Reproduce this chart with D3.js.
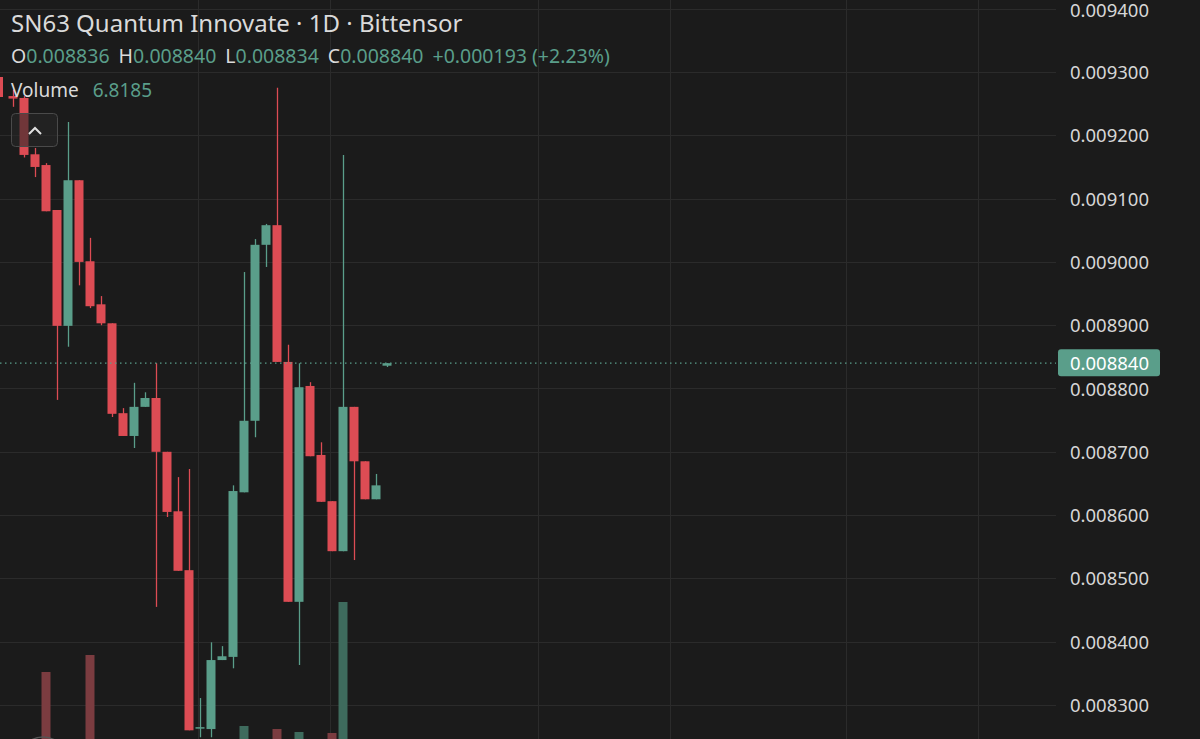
<!DOCTYPE html>
<html>
<head>
<meta charset="utf-8">
<script src="https://cdn.jsdelivr.net/npm/d3@7"></script>
<style>
  body { margin: 0; background: #1b1b1b; overflow: hidden; }
  svg { display: block; }
  text { font-family: "Noto Sans", "Open Sans", sans-serif; }
</style>
</head>
<body>
<svg id="chart" width="1200" height="739"></svg>
<script>
// daily candles
var opens  = [0.009262, 0.009259, 0.009170, 0.009153, 0.009082, 0.008899, 0.009129, 0.009001, 0.008933, 0.008903,
              0.008761, 0.008725, 0.008771, 0.008785, 0.008700, 0.008606, 0.008513, 0.008263, 0.008262, 0.008371,
              0.008376, 0.008636, 0.008749, 0.009027, 0.009058, 0.008842, 0.008463, 0.008804, 0.008695, 0.008622,
              0.008543, 0.008771, 0.008685, 0.008625, 0.008836];
var highs  = [0.009272, 0.009262, 0.009180, 0.009156, 0.009082, 0.009221, 0.009129, 0.009038, 0.008946, 0.008903,
              0.008769, 0.008809, 0.008794, 0.008840, 0.008700, 0.008660, 0.008673, 0.008311, 0.008399, 0.008393,
              0.008647, 0.008984, 0.009036, 0.009060, 0.009275, 0.008869, 0.008840, 0.008810, 0.008715, 0.008622,
              0.009169, 0.008771, 0.008685, 0.008665, 0.008840];
var lows   = [0.009245, 0.009165, 0.009134, 0.009080, 0.008782, 0.008866, 0.008963, 0.008927, 0.008900, 0.008755,
              0.008725, 0.008706, 0.008771, 0.008455, 0.008597, 0.008512, 0.008260, 0.008249, 0.008249, 0.008371,
              0.008358, 0.008636, 0.008723, 0.008992, 0.008842, 0.008463, 0.008363, 0.008693, 0.008621, 0.008543,
              0.008543, 0.008529, 0.008625, 0.008625, 0.008834];
var closes = [0.009258, 0.009169, 0.009150, 0.009080, 0.008899, 0.009129, 0.009000, 0.008930, 0.008903, 0.008760,
              0.008725, 0.008771, 0.008785, 0.008700, 0.008605, 0.008512, 0.008260, 0.008265, 0.008371, 0.008377,
              0.008638, 0.008749, 0.009027, 0.009058, 0.008842, 0.008463, 0.008802, 0.008693, 0.008621, 0.008543,
              0.008771, 0.008685, 0.008625, 0.008647, 0.008840];
var volumes = [12, 14, 15, 88, 16, 10, 12, 105, 10, 9,
               8, 10, 8, 12, 9, 10, 14, 8, 11, 9,
               16, 34, 18, 14, 31, 20, 28, 12, 15, 27,
               158, 10, 8, 6, 6.8185];
var priceTicks = [0.0083, 0.0084, 0.0085, 0.0086, 0.0087, 0.0088, 0.0089, 0.009, 0.0091, 0.0092, 0.0093, 0.0094];
var timeGrid = [16.8, 28.8, 47.7, 59.7, 75.7, 87.7];  // vertical grid, in bar units
var lastPrice = 0.008840;

var svg = d3.select('#chart');
var W = 1056, H = 739;
var up = '#5a9e8a', down = '#dd4c54';

var x = d3.scaleLinear().domain([0, 34]).range([13, 387]);
var y = d3.scaleLinear().domain([0.0083, 0.0093]).range([705, 72]);
var v = d3.scaleLinear().domain([0, 160]).range([760, 600]);

// grid
svg.append('g').selectAll('line').data(priceTicks).enter().append('line')
  .attr('x1', 0).attr('x2', W)
  .attr('y1', function(d) { return Math.round(y(d)) + 0.5; })
  .attr('y2', function(d) { return Math.round(y(d)) + 0.5; })
  .attr('stroke', '#2b2b2b');
svg.append('g').selectAll('line').data(timeGrid).enter().append('line')
  .attr('x1', function(d) { return Math.round(x(d)) + 0.5; })
  .attr('x2', function(d) { return Math.round(x(d)) + 0.5; })
  .attr('y1', 0).attr('y2', H)
  .attr('stroke', '#2b2b2b');

var idx = d3.range(opens.length);

// volume
svg.append('g').selectAll('rect').data(idx).enter().append('rect')
  .attr('x', function(i) { return x(i) - 4.5; })
  .attr('width', 9)
  .attr('y', function(i) { return v(volumes[i]); })
  .attr('height', function(i) { return 760 - v(volumes[i]); })
  .attr('fill', function(i) { return closes[i] >= opens[i] ? '#3e6b5d' : '#7b3c40'; });

// candles
var c = svg.append('g').selectAll('g').data(idx).enter().append('g');
c.append('line')
  .attr('x1', function(i) { return Math.round(x(i)) + 0.5; })
  .attr('x2', function(i) { return Math.round(x(i)) + 0.5; })
  .attr('y1', function(i) { return y(highs[i]); })
  .attr('y2', function(i) { return y(lows[i]); })
  .attr('stroke', function(i) { return closes[i] >= opens[i] ? up : down; })
  .attr('stroke-width', 1.3);
c.append('rect')
  .attr('x', function(i) { return x(i) - 4.5; })
  .attr('width', 9)
  .attr('y', function(i) { return y(Math.max(opens[i], closes[i])); })
  .attr('height', function(i) { return Math.max(1.5, Math.abs(y(opens[i]) - y(closes[i]))); })
  .attr('fill', function(i) { return closes[i] >= opens[i] ? up : down; });

// last price line
svg.append('line')
  .attr('x1', 0).attr('x2', W)
  .attr('y1', y(lastPrice)).attr('y2', y(lastPrice))
  .attr('stroke', up).attr('stroke-dasharray', '1.5,3.5').attr('stroke-width', 1.2);

// price axis
svg.append('g').selectAll('text').data(priceTicks).enter().append('text')
  .attr('x', 1070).attr('y', function(d) { return Math.max(17, y(d) + 7); })
  .attr('fill', '#d6d6d6').attr('font-size', 18.5)
  .text(function(d) { return d.toFixed(6); });
svg.append('rect')
  .attr('x', 1058).attr('y', y(lastPrice) - 14).attr('width', 102).attr('height', 27).attr('rx', 3)
  .attr('fill', up);
svg.append('text')
  .attr('x', 1070).attr('y', y(lastPrice) + 7)
  .attr('fill', '#ffffff').attr('font-size', 18.5).text(lastPrice.toFixed(6));

// legend
svg.append('text').attr('x', 11).attr('y', 32).attr('fill', '#dadada').attr('font-size', 24)
  .text('SN63 Quantum Innovate · 1D · Bittensor');
var ohlc = svg.append('text').attr('x', 11).attr('y', 63).attr('font-size', 19.5);
[['O', opens], ['H', highs], ['L', lows], ['C', closes]].forEach(function(p, k) {
  ohlc.append('tspan').attr('dx', k ? 9 : 0).attr('fill', '#dadada').text(p[0]);
  ohlc.append('tspan').attr('fill', up).text(p[1][34].toFixed(6));
});
ohlc.append('tspan').attr('dx', 9).attr('fill', up).text('+0.000193 (+2.23%)');

svg.append('rect').attr('x', 0).attr('y', 77).attr('width', 3).attr('height', 20).attr('fill', down);
var vol = svg.append('text').attr('x', 11).attr('y', 97).attr('font-size', 19);
vol.append('tspan').attr('fill', '#dadada').text('Volume');
vol.append('tspan').attr('dx', 14).attr('fill', up).text(volumes[34].toFixed(4));

// collapse button
svg.append('rect').attr('x', 11.5).attr('y', 113.5).attr('width', 46).attr('height', 33).attr('rx', 4)
  .attr('fill', 'rgba(40,40,40,0.6)').attr('stroke', '#4a4a4a');
svg.append('path').attr('d', 'M29,134 L35,128 L41,134')
  .attr('fill', 'none').attr('stroke', '#e0e0e0').attr('stroke-width', 2);

// partial circle at bottom-left
svg.append('circle').attr('cx', 43).attr('cy', 761).attr('r', 24)
  .attr('fill', 'none').attr('stroke', '#555').attr('stroke-width', 1.5);
</script>
</body>
</html>
